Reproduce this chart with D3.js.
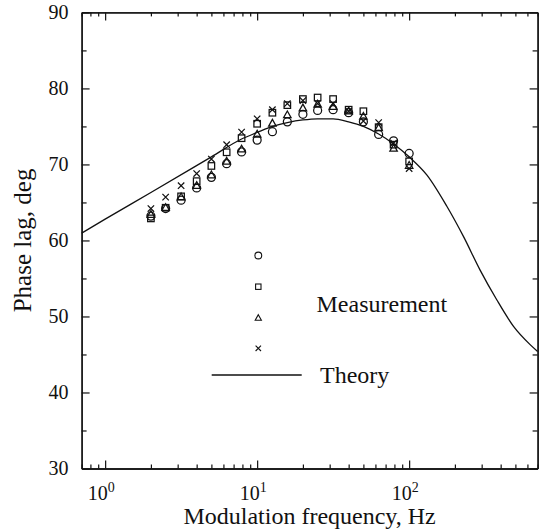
<!DOCTYPE html>
<html><head><meta charset="utf-8">
<script src="https://cdn.jsdelivr.net/npm/d3@7"></script>
<style>html,body{margin:0;padding:0;background:#fff}</style>
</head><body><svg id="c" width="539" height="532"></svg>
<script>
// ---- data ----
const freqs    = [2, 2.5, 3.16, 4, 5, 6.3, 7.9, 10, 12.6, 15.8, 20, 25, 31.6, 40, 50, 63, 79, 100];
const circles  = [63.2, 64.2, 65.3, 66.9, 68.3, 70.1, 71.65, 73.2, 74.3, 75.6, 76.6, 77.1, 77.2, 76.8, 75.6, 73.95, 73.1, 71.45];
const squares  = [62.9, 64.3, 65.8, 67.8, 69.8, 71.6, 73.45, 75.35, 76.8, 77.8, 78.6, 78.8, 78.6, 77.2, 77.0, 74.9, 72.6, 70.4];
const triangles= [63.4, 64.3, 65.7, 67.2, 68.6, 70.4, 72.0, 73.95, 75.4, 76.5, 77.4, 77.9, 77.6, 77.0, 76.3, 74.8, 72.1, 69.85];
const crosses  = [64.2, 65.7, 67.2, 68.8, 70.7, 72.6, 74.25, 76.0, 77.2, 78.0, 78.4, 78.0, 78.0, 77.0, 75.7, 75.5, 72.8, 69.45];
const theoryF  = [0.7, 1, 2, 5, 7.9, 10, 12.6, 15.8, 20, 25, 31.6, 40, 50, 63, 79, 100, 131, 177, 228, 293, 377, 486, 625, 700];
const theoryV  = [60.95, 62.8, 66.3, 71.0, 73.35, 74.2, 75.0, 75.5, 75.85, 76.0, 76.0, 75.6, 75.0, 74.0, 72.7, 71.0, 68.6, 64.5, 60.5, 56.1, 52.2, 48.7, 46.3, 45.4];
const yMajor   = [30, 40, 50, 60, 70, 80, 90];
const yMinor   = [35, 45, 55, 65, 75, 85];
const xMajor   = [1, 10, 100];
const xMajorExp= ["0", "1", "2"];
const xMinor   = [0.7, 0.8, 0.9, 2, 3, 4, 5, 6, 7, 8, 9, 20, 30, 40, 50, 60, 70, 80, 90, 200, 300, 400, 500, 600, 700];
const xTitle = "Modulation frequency, Hz";
const yTitle = "Phase lag, deg";
const legendMeas = "Measurement";
const legendTheory = "Theory";

// ---- layout ----
const L = 81.6, R = 537.6, T = 12.4, B = 468.5;
const FONT = "'Liberation Serif','Times New Roman',serif";
const svg = d3.select("#c");
const x = d3.scaleLog().domain([0.7, 700]).range([L, R]);
const y = d3.scaleLinear().domain([30, 90]).range([B, T]);
const ink = "#111";

function axisG(gen, tx, ty) {
  const g = svg.append("g").attr("transform", `translate(${tx},${ty})`).call(gen);
  g.selectAll("line").attr("stroke", ink).attr("stroke-width", 1.2);
  g.select(".domain").attr("stroke", ink).attr("stroke-width", 1.3);
  return g;
}
axisG(d3.axisBottom(x).tickValues(xMajor).tickSizeInner(-8).tickSizeOuter(0).tickFormat(""), 0, B);
axisG(d3.axisBottom(x).tickValues(xMinor).tickSizeInner(-4).tickSizeOuter(0).tickFormat(""), 0, B);
axisG(d3.axisTop(x).tickValues(xMajor).tickSizeInner(-8).tickSizeOuter(0).tickFormat(""), 0, T);
axisG(d3.axisTop(x).tickValues(xMinor).tickSizeInner(-4).tickSizeOuter(0).tickFormat(""), 0, T);
const gl = axisG(d3.axisLeft(y).tickValues(yMajor).tickSizeInner(-8).tickSizeOuter(0).tickPadding(13), L, 0);
gl.selectAll("text").attr("font-family", FONT).attr("font-size", 20).attr("fill", ink);
axisG(d3.axisLeft(y).tickValues(yMinor).tickSizeInner(-5).tickSizeOuter(0).tickFormat(""), L, 0);
axisG(d3.axisRight(y).tickValues(yMajor).tickSizeInner(-8).tickSizeOuter(0).tickFormat(""), R, 0);
axisG(d3.axisRight(y).tickValues(yMinor).tickSizeInner(-5).tickSizeOuter(0).tickFormat(""), R, 0);

const xl = svg.append("g").selectAll("text").data(xMajor).join("text")
  .attr("x", d => x(d) - 4).attr("y", B + 31)
  .attr("text-anchor", "middle").attr("font-family", FONT).attr("font-size", 20).attr("fill", ink);
xl.append("tspan").text("10");
xl.append("tspan").attr("font-size", 14).attr("dy", -8).text((d, i) => xMajorExp[i]);

svg.append("text").attr("x", (L + R) / 2).attr("y", 524).attr("text-anchor", "middle")
  .attr("font-family", FONT).attr("font-size", 24).attr("fill", ink).text(xTitle);
svg.append("text").attr("transform", `translate(31,${(T + B) / 2}) rotate(-90)`).attr("text-anchor", "middle")
  .attr("font-family", FONT).attr("font-size", 25).attr("fill", ink).text(yTitle);

const tdata = theoryF.map((f, i) => [f, theoryV[i]]);
svg.append("path").datum(tdata)
  .attr("d", d3.line().x(d => x(d[0])).y(d => y(d[1])).curve(d3.curveMonotoneX))
  .attr("fill", "none").attr("stroke", ink).attr("stroke-width", 1.3);

function drawCircle(g, cx, cy, r) { g.append("circle").attr("cx", cx).attr("cy", cy).attr("r", r); }
function drawSquare(g, cx, cy, s) { g.append("rect").attr("x", cx - s / 2).attr("y", cy - s / 2).attr("width", s).attr("height", s); }
function drawTri(g, cx, cy, s) {
  const h = s * 0.9;
  g.append("path").attr("d", `M${cx},${cy - h * 0.6}L${cx + s / 2},${cy + h * 0.4}L${cx - s / 2},${cy + h * 0.4}Z`);
}
function drawX(g, cx, cy, a) {
  g.append("path").attr("d", `M${cx - a},${cy - a}L${cx + a},${cy + a}M${cx - a},${cy + a}L${cx + a},${cy - a}`);
}
const mg = svg.append("g").attr("fill", "none").attr("stroke", ink).attr("stroke-width", 1.25);
freqs.forEach((f, i) => {
  drawCircle(mg, x(f), y(circles[i]), 4);
  drawSquare(mg, x(f), y(squares[i]), 6.5);
  drawTri(mg, x(f), y(triangles[i]), 7.5);
  drawX(mg, x(f), y(crosses[i]), 3.2);
});

const lg = svg.append("g").attr("fill", "none").attr("stroke", ink).attr("stroke-width", 1.1);
drawCircle(lg, 258.3, 255.5, 3.4);
drawSquare(lg, 258.3, 286.7, 5.4);
drawTri(lg, 258.3, 318, 6.2);
drawX(lg, 258.3, 348.3, 2.7);
svg.append("text").attr("x", 316.5).attr("y", 311.5).attr("font-family", FONT).attr("font-size", 24).attr("fill", ink).text(legendMeas);
svg.append("line").attr("x1", 211.7).attr("x2", 301.7).attr("y1", 375).attr("y2", 375).attr("stroke", ink).attr("stroke-width", 1.3);
svg.append("text").attr("x", 320).attr("y", 383).attr("font-family", FONT).attr("font-size", 24).attr("fill", ink).text(legendTheory);
</script></body></html>
